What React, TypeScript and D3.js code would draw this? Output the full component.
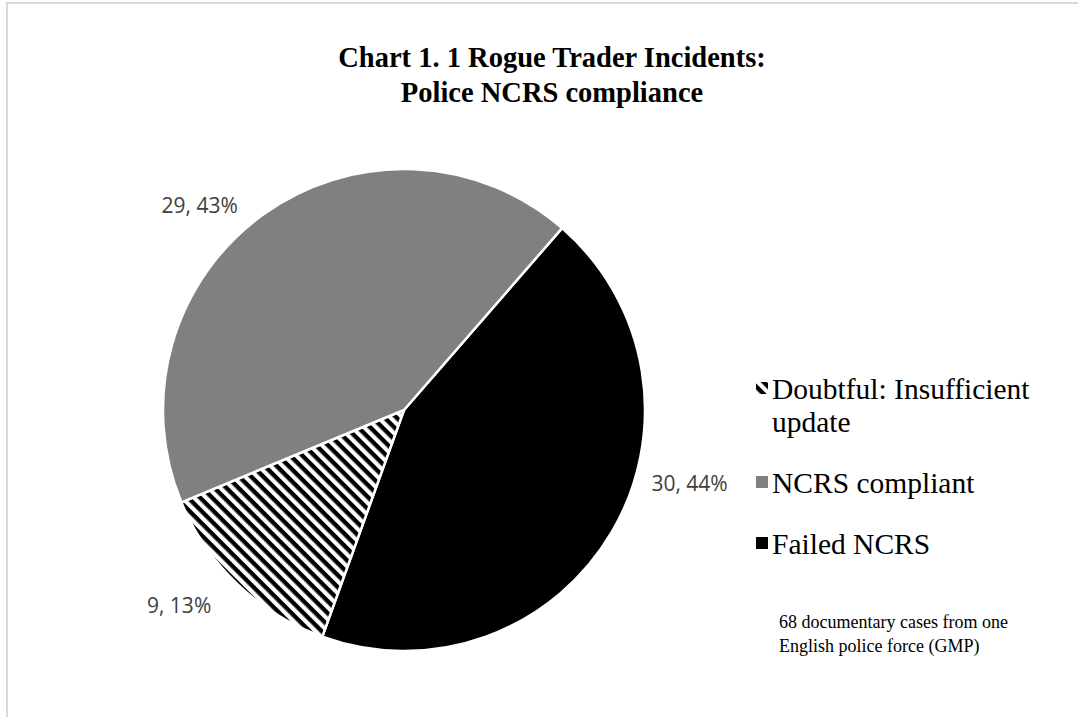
import * as d3 from "d3";

// slice order as it is drawn, clockwise from the first slice angle
const categories = ["Failed NCRS", "Doubtful: Insufficient update", "NCRS compliant"];
const counts = [30, 9, 29];
const fills = ["#000000", "url(#hatch)", "#808080"];

// legend order and wrapped text
const legendOrder = [1, 2, 0];
const legendLines = [["Failed NCRS"], ["Doubtful: Insufficient", "update"], ["NCRS compliant"]];

const titleLines = ["Chart 1. 1 Rogue Trader Incidents:", "Police NCRS compliance"];
const noteLines = ["68 documentary cases from one", "English police force (GMP)"];

// where the data labels sit (degrees clockwise from 12 o'clock, distance from centre)
const labelSpots = [
  { angle: 104.5, dist: 295 },
  { angle: 229, dist: 298 },
  { angle: 315, dist: 289 },
];

const W = 1078;
const H = 717;
const cx = 404;
const cy = 410;
const R = 241;
const firstSliceAngle = 41;

const total = d3.sum(counts);
const rad = (deg: number) => (deg * Math.PI) / 180;

const pie = d3
  .pie<number>()
  .sort(null)
  .startAngle(rad(firstSliceAngle))
  .endAngle(rad(firstSliceAngle + 360));
const arcs = pie(counts);
const arc = d3.arc<d3.PieArcDatum<number>>().innerRadius(0).outerRadius(R);

const pct = d3.format(".0%");

function App() {
  const legendRows: { idx: number; line: string; first: boolean; y: number }[] = [];
  let y = 399;
  legendOrder.forEach((idx) => {
    legendLines[idx].forEach((line, j) => {
      legendRows.push({ idx, line, first: j === 0, y });
      y += 33;
    });
    y += 28;
  });

  return (
    <svg
      width={W}
      height={H}
      style={{ position: "absolute", left: 0, top: 0, background: "#fff" }}
    >
      <defs>
        <pattern
          id="hatch"
          patternUnits="userSpaceOnUse"
          width={8.5}
          height={8.5}
          patternTransform="rotate(45)"
        >
          <rect width={8.5} height={8.5} fill="#fff" />
          <rect width={8.5} height={4.3} fill="#000" />
        </pattern>
      </defs>

      <path d={`M7,${H} V3 H${W}`} fill="none" stroke="#d9d9d9" strokeWidth={2} />

      <g fontFamily="Liberation Serif" fontWeight="bold" fontSize={28.5} textAnchor="middle">
        {titleLines.map((t, i) => (
          <text key={t} x={552} y={67 + i * 35}>
            {t}
          </text>
        ))}
      </g>

      <g transform={`translate(${cx},${cy})`}>
        {arcs.map((a, i) => (
          <path key={categories[i]} d={arc(a) ?? ""} fill={fills[i]} stroke="#fff" strokeWidth={2.5} />
        ))}
        {arcs.map((a, i) => {
          const [lx, ly] = d3.pointRadial(rad(labelSpots[i].angle), labelSpots[i].dist);
          return (
            <text
              key={"l" + i}
              x={lx}
              y={ly}
              dy="0.35em"
              textAnchor="middle"
              fontFamily="Open Sans"
              fontSize={21}
              fill="#404040"
            >
              {`${a.data}, ${pct(a.data / total)}`}
            </text>
          );
        })}
      </g>

      <g fontFamily="Liberation Serif" fontSize={29.5}>
        {legendRows.map((r) => (
          <g key={r.line}>
            {r.first && (
              <rect x={756} y={r.y - 17} width={12} height={12} fill={fills[r.idx]} />
            )}
            <text x={772} y={r.y}>
              {r.line}
            </text>
          </g>
        ))}
      </g>

      <g fontFamily="Liberation Serif" fontSize={18}>
        {noteLines.map((t, i) => (
          <text key={t} x={779} y={628 + i * 24}>
            {t}
          </text>
        ))}
      </g>
    </svg>
  );
}

export default App;
